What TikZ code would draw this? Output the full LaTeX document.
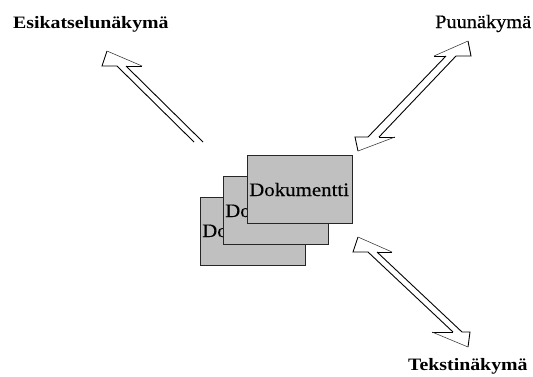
\documentclass[tikz,border=0pt]{standalone}
\usepackage{fontspec}
\newfontfamily\docfont[FakeStretch=1.1,FakeBold=0.4]{Liberation Serif}
\newfontfamily\puufont[FakeStretch=1.07,FakeBold=0.4]{Liberation Serif}
\newfontfamily\lblfont[FakeStretch=1.14]{Liberation Serif}
\begin{document}
\begin{tikzpicture}[x=1pt,y=-1pt,
  docbox/.style={draw=black!85,line width=0.8pt,fill=docgray,minimum width=105pt,minimum height=68pt,inner sep=0pt,anchor=north west},
  doctext/.style={inner sep=0pt,anchor=base west,font=\docfont\fontsize{19}{19}\selectfont},
  boldlbl/.style={inner sep=0pt,anchor=base west,font=\lblfont\bfseries\fontsize{17.4}{17.4}\selectfont},
  reglbl/.style={inner sep=0pt,anchor=base west,font=\puufont\fontsize{19}{19}\selectfont},
  edge/.style={line width=0.9pt,black},
  slant/.style={line width=0.55pt,black!80}]
\definecolor{docgray}{HTML}{C0C0C0}
\useasboundingbox (0,0) rectangle (533,376);
% documents
\node[docbox] (b1) at (200,197) {};
\node[doctext] (t1) at ([shift={(2,40)}]b1.north west) {Dokumentti};
\node[docbox] (b2) at (223,176) {};
\node[doctext] (t2) at ([shift={(2,41)}]b2.north west) {Dokumentti};
\node[docbox] (b3) at (247,155) {};
\node[doctext] (t3) at ([shift={(2,41)}]b3.north west) {Dokumentti};
% labels
\node[boldlbl] (esi) at (13,28) {Esikatselunäkymä};
\node[reglbl] (puu) at (435,28) {Puunäkymä};
\node[boldlbl] (teks) at (408,370) {Tekstinäkymä};
% arrow 1 (to Esikatselunäkymä)
\coordinate (a1bl) at (102,66); \coordinate (a1tl) at (107,51); \coordinate (a1r) at (142,66);
\coordinate (a1s1) at (117,66); \coordinate (a1s2) at (126,66);
\coordinate (a1e1) at (194,142); \coordinate (a1e2) at (203,142);
\draw[edge] (a1s1) -- (a1bl) -- (a1tl);
\draw[edge] (a1s2) -- (a1r);
\draw[slant] (a1tl) -- (a1r);
\draw[edge] (a1s1) -- (a1e1);
\draw[edge] (a1s2) -- (a1e2);
% arrow 2 (Puunäkymä, double)
\coordinate (a2l) at (434,56); \coordinate (a2ap) at (468,41); \coordinate (a2r) at (471,56);
\coordinate (a2s1) at (446,56); \coordinate (a2s2) at (456,56);
\coordinate (a2e1) at (368,137); \coordinate (a2e2) at (379,137);
\coordinate (a2bl) at (355,137); \coordinate (a2br) at (395,137); \coordinate (a2bb) at (358,151);
\draw[edge] (a2s1) -- (a2l);
\draw[edge] (a2s2) -- (a2r) -- (a2ap);
\draw[slant] (a2l) -- (a2ap);
\draw[edge] (a2s1) -- (a2e1);
\draw[edge] (a2s2) -- (a2e2);
\draw[edge] (a2e1) -- (a2bl) -- (a2bb);
\draw[edge] (a2e2) -- (a2br);
\draw[slant] (a2bb) -- (a2br);
% arrow 3 (Tekstinäkymä, double)
\coordinate (a3ap) at (358,237); \coordinate (a3bl) at (353,252); \coordinate (a3r) at (392,252);
\coordinate (a3s1) at (368,252); \coordinate (a3s2) at (377,252);
\coordinate (a3e1) at (453,332); \coordinate (a3e2) at (462,332);
\coordinate (a3l) at (432,332); \coordinate (a3rr) at (470,332); \coordinate (a3bb) at (468,347);
\draw[edge] (a3s1) -- (a3bl) -- (a3ap);
\draw[edge] (a3s2) -- (a3r);
\draw[slant] (a3ap) -- (a3r);
\draw[edge] (a3s1) -- (a3e1);
\draw[edge] (a3s2) -- (a3e2);
\draw[edge] (a3e1) -- (a3l);
\draw[edge] (a3e2) -- (a3rr) -- (a3bb);
\draw[slant] (a3l) -- (a3bb);
\end{tikzpicture}
\end{document}
